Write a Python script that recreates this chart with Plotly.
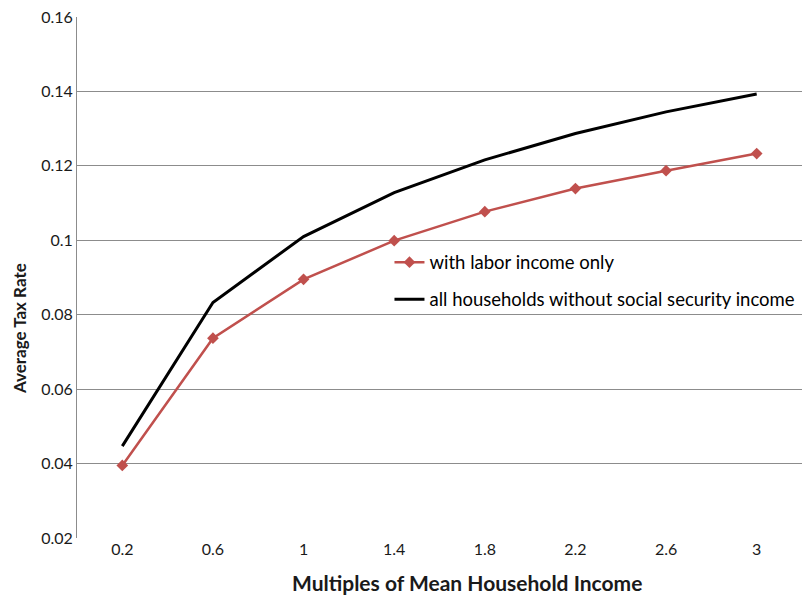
import plotly.graph_objects as go

# Multiples of mean household income (category labels on the x axis)
income_multiples = ["0.2", "0.6", "1", "1.4", "1.8", "2.2", "2.6", "3"]

# Average tax rate by income multiple
labor_only = [0.0395, 0.0737, 0.0895, 0.0999, 0.1077, 0.1139, 0.1187, 0.1233]
all_households = [0.0447, 0.0833, 0.1010, 0.1128, 0.1216, 0.1287, 0.1345, 0.1393]

# Y-axis tick values and their labels
y_ticks = [0.02, 0.04, 0.06, 0.08, 0.1, 0.12, 0.14, 0.16]
y_tick_labels = ["0.02", "0.04", "0.06", "0.08", "0.1", "0.12", "0.14", "0.16"]

FONT = "Lato, 'Open Sans', sans-serif"
GRID = "#8c8c8c"

fig = go.Figure()
fig.add_trace(go.Scatter(
    x=income_multiples, y=labor_only, name="with labor income only",
    legendgroup="labor", mode="lines+markers",
    line=dict(color="#C0504D", width=2.5),
    marker=dict(symbol="diamond", size=9, color="#C0504D"),
))
fig.add_trace(go.Scatter(
    x=income_multiples, y=all_households,
    name="all households without social security income",
    legendgroup="all", mode="lines",
    line=dict(color="#000000", width=3),
))

fig.update_layout(
    width=802, height=597,
    margin=dict(l=77, r=0, t=17, b=59, autoexpand=False),
    paper_bgcolor="white", plot_bgcolor="white",
    font=dict(family=FONT, size=16, color="#1a1a1a"),
    legend=dict(
        x=0.431, y=0.565, xanchor="left", yanchor="top",
        bgcolor="rgba(255,255,255,0)", traceorder="grouped",
        font=dict(family=FONT, size=18.5, color="#000000"),
        tracegroupgap=10, itemwidth=30,
    ),
    xaxis=dict(
        type="category", range=[-0.5, 7.5],
        showgrid=False, showline=False, ticks="",
        zeroline=False, tickfont=dict(family=FONT, size=16),
    ),
    yaxis=dict(
        range=[0.02, 0.16], tickvals=y_ticks, ticktext=y_tick_labels,
        showgrid=True, gridcolor=GRID, gridwidth=1,
        showline=True, linecolor=GRID, linewidth=1,
        zeroline=False, ticks="", tickfont=dict(family=FONT, size=16),
    ),
    annotations=[
        # axis titles
        dict(text="<b>Multiples of Mean Household Income</b>",
             xref="paper", yref="paper", x=0.538, y=-0.086,
             xanchor="center", yanchor="middle", showarrow=False,
             font=dict(family=FONT, size=21, color="#1a1a1a")),
        dict(text="<b>Average Tax Rate</b>", textangle=-90,
             xref="paper", yref="paper", x=-0.08, y=0.401,
             xanchor="center", yanchor="middle", showarrow=False,
             font=dict(family=FONT, size=17, color="#1a1a1a")),
    ],
)

fig.write_html("out.html")
